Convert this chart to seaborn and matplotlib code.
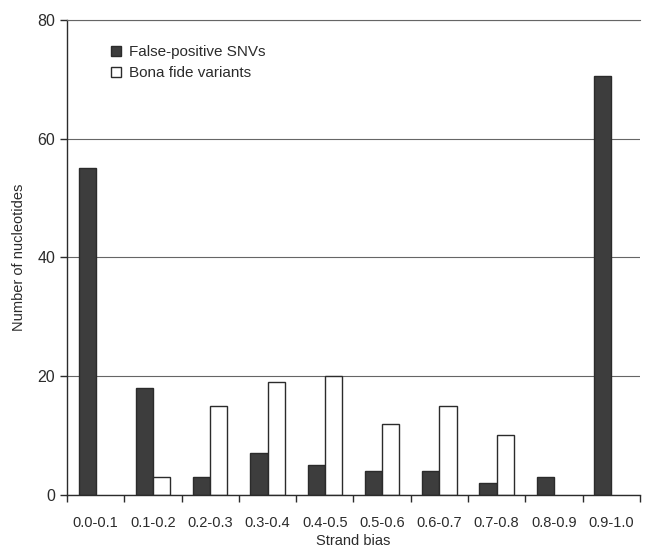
import matplotlib
matplotlib.use("Agg")
import matplotlib.pyplot as plt
import numpy as np
import pandas as pd
import seaborn as sns

sns.set_style("ticks")
plt.rcParams['font.family'] = ['Liberation Sans', 'DejaVu Sans']

# strand bias bins and counts
bins = ['0.0-0.1', '0.1-0.2', '0.2-0.3', '0.3-0.4', '0.4-0.5',
        '0.5-0.6', '0.6-0.7', '0.7-0.8', '0.8-0.9', '0.9-1.0']
false_pos = [55, 18, 3, 7, 5, 4, 4, 2, 3, 70.5]
bona_fide = [0, 3, 15, 19, 20, 12, 15, 10, 0, 0]
series_names = ['False-positive SNVs', 'Bona fide variants']

df = pd.DataFrame({
    'bin': bins * 2,
    'count': false_pos + bona_fide,
    'kind': [series_names[0]] * len(bins) + [series_names[1]] * len(bins),
})

fig = plt.figure(figsize=(6.45, 5.48), dpi=100)
ax = fig.add_axes([0.104, 0.097, 0.888, 0.867])

ink = '#2b2b2b'
sns.barplot(data=df, x='bin', y='count', hue='kind', order=bins,
            hue_order=series_names,
            palette={series_names[0]: '#3d3d3d', series_names[1]: 'white'},
            edgecolor=ink, linewidth=1.0, width=0.6, ax=ax)

# zero height bars should not leave an outline on the axis
for cont in ax.containers:
    for p in cont.patches:
        if p.get_height() == 0:
            p.set_visible(False)

ax.set_xlim(-0.5, len(bins) - 0.5)
ax.set_ylim(0, 80)
ax.set_yticks([0, 20, 40, 60, 80])
ax.yaxis.grid(True, color='#666666', linewidth=0.8)
ax.set_axisbelow(True)

# ticks sit on the bin boundaries, labels in the middle
ax.set_xticks(np.arange(-0.5, len(bins), 1.0), minor=True)
ax.tick_params(axis='x', which='major', length=0, labelsize=10.5, colors=ink, pad=15)
ax.tick_params(axis='x', which='minor', length=5, width=1.0, color=ink, direction='out')
ax.tick_params(axis='y', length=5, width=1.0, color=ink, labelsize=11.5, labelcolor=ink)

for side in ['left', 'bottom']:
    ax.spines[side].set_color(ink)
    ax.spines[side].set_linewidth(1.0)
ax.spines['right'].set_visible(False)
ax.spines['top'].set_color('#666666')
ax.spines['top'].set_linewidth(0.8)

ax.set_xlabel('Strand bias', fontsize=10.5, color=ink, labelpad=3)
ax.set_ylabel('Number of nucleotides', fontsize=10.5, color=ink, labelpad=8)

leg = ax.legend(loc='upper left', bbox_to_anchor=(0.052, 0.975), frameon=False,
                fontsize=11, handlelength=0.65, handleheight=0.65,
                handletextpad=0.55, labelspacing=0.45)
for t in leg.get_texts():
    t.set_color(ink)
for h in leg.legend_handles:
    h.set_edgecolor(ink)
    h.set_linewidth(1.0)

fig.savefig('out.png', dpi=100)
